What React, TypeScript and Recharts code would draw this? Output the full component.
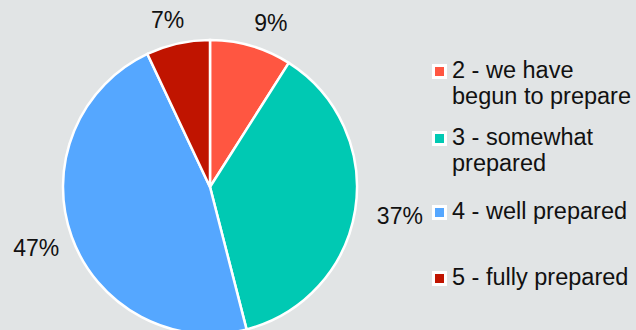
import React from 'react';
import { PieChart, Pie, Cell, Legend } from 'recharts';

const categories = ['2 - we have begun to prepare', '3 - somewhat prepared', '4 - well prepared', '5 - fully prepared'];
const legendLines = [['2 - we have', 'begun to prepare'], ['3 - somewhat', 'prepared'], ['4 - well prepared'], ['5 - fully prepared']];
const shares = [9, 37, 47, 7];
const sliceColors = ['#ff5641', '#00c9b3', '#55a7ff', '#c01400'];

const data = categories.map((name, i) => ({ name, value: shares[i] }));

const RAD = Math.PI / 180;
const FONT = "'Liberation Sans', Arial, sans-serif";

// percent label outside the slice, anchored away from the pie
const renderLabel = ({ cx, cy, midAngle, outerRadius, value }: any) => {
  const r = outerRadius + 26;
  const x = cx + r * Math.cos(-midAngle * RAD);
  const y = cy + r * Math.sin(-midAngle * RAD);
  const right = x > cx;
  return (
    <text
      x={x + (right ? -4 : 12)}
      y={y + 2}
      fill="#111"
      fontSize={23}
      fontFamily={FONT}
      textAnchor={right ? 'start' : 'end'}
      dominantBaseline="central"
    >
      {value + '%'}
    </text>
  );
};

// item tops in the legend box
const legendTops = [0, 67, 141, 207];

const LegendContent = () => (
  <div style={{ position: 'relative', width: 204, height: 240, fontFamily: FONT }}>
    {legendLines.map((lines, i) => (
      <div key={i} style={{ position: 'absolute', left: 0, top: legendTops[i], display: 'flex' }}>
        <div
          style={{
            width: 9,
            height: 9,
            marginTop: 7,
            marginRight: 5,
            background: sliceColors[i],
            border: '3px solid #fff',
            boxSizing: 'content-box',
          }}
        />
        <div style={{ fontSize: 23.5, lineHeight: '26px', color: '#111' }}>
          {lines.map((l, j) => (
            <div key={j} style={{ whiteSpace: 'nowrap' }}>{l}</div>
          ))}
        </div>
      </div>
    ))}
  </div>
);

export default function App() {
  return (
    <div style={{ width: 636, height: 330, background: '#e1e4e5', position: 'relative', overflow: 'hidden' }}>
      <style>{'body{margin:0}'}</style>
      <PieChart width={636} height={330} margin={{ top: 0, right: 0, bottom: 0, left: 0 }}>
        <Pie
          data={data}
          dataKey="value"
          nameKey="name"
          cx={210}
          cy={187}
          outerRadius={147}
          startAngle={90}
          endAngle={-270}
          stroke="#fff"
          strokeWidth={2.5}
          label={renderLabel}
          labelLine={false}
          isAnimationActive={false}
        >
          {data.map((d, i) => (
            <Cell key={d.name} fill={sliceColors[i]} />
          ))}
        </Pie>
        <Legend
          content={<LegendContent />}
          wrapperStyle={{ position: 'absolute', left: 432, top: 57, width: 204 }}
        />
      </PieChart>
    </div>
  );
}
